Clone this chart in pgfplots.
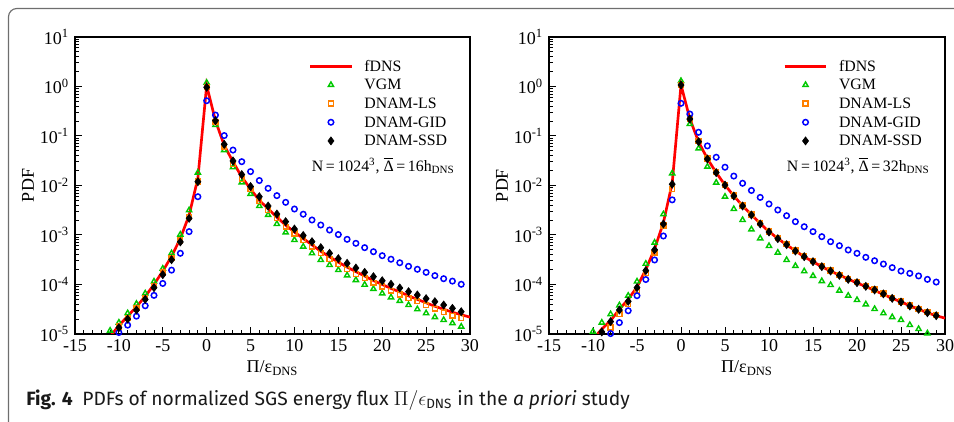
\documentclass[border=0pt]{standalone}
\usepackage{fontspec}
\setmainfont{Liberation Serif}
\newfontfamily\capfont{Fira Sans}
\usepackage{pgfplots}
\pgfplotsset{compat=1.18}

\definecolor{fdns}{RGB}{255,0,0}
\definecolor{vgm}{RGB}{0,200,0}
\definecolor{dls}{RGB}{255,128,0}
\definecolor{gid}{RGB}{0,0,255}
\definecolor{framegray}{RGB}{110,110,110}

\newcommand\dbar{\leavevmode\rlap{\raisebox{0.78em}{\rule{0.6em}{0.07em}}}Δ}

\pgfplotsset{
  legend image code/.code={\draw[mark repeat=2,mark phase=2,#1] plot coordinates {(0pt,0pt)(12.5pt,0pt)(25pt,0pt)};},
  fline/.style={fdns, line width=1.6pt, no marks},
  vgmm/.style={vgm, only marks, mark=triangle, mark size=1.8pt, mark options={line width=0.85pt}},
  dlsm/.style={dls, only marks, mark=square, mark size=1.45pt, mark options={line width=0.85pt}},
  gidm/.style={gid, only marks, mark=o, mark size=1.65pt, mark options={line width=0.9pt}},
  ssdm/.style={black, only marks, mark=diamond*, mark size=2.4pt},
}

\begin{document}
\begin{tikzpicture}
\path[use as bounding box] (0,0) rectangle (572.4pt,253.2pt);
\draw[framegray, line width=0.7pt, rounded corners=5pt] (5.1pt,-6pt) -- (5.1pt,248.1pt) -- (582pt,248.1pt);

% left panel: Delta = 16 h_DNS
\begin{axis}[
    at={(45pt,52.8pt)}, anchor=south west,
    scale only axis, width=237pt, height=178.2pt,
    ymode=log, xmin=-15, xmax=30, ymin=1e-5, ymax=10,
    xtick={-15,-10,...,30}, minor x tick num=4,
    ytick={1e-5,1e-4,1e-3,1e-2,1e-1,1,10},
    yticklabels={10\textsuperscript{-5},10\textsuperscript{-4},10\textsuperscript{-3},10\textsuperscript{-2},10\textsuperscript{-1},10\textsuperscript{0},10\textsuperscript{1}},
    tick pos=left, tick align=inside,
    axis line style={line width=1pt},
    major tick length=4pt, minor tick length=2.2pt,
    tick style={black, line width=0.6pt},
    tick label style={font=\fontsize{10.8}{12}\selectfont},
    xticklabel style={/pgf/number format/assume math mode=true},
    xlabel={Π/ε\textsubscript{DNS}}, ylabel={PDF},
    label style={font=\fontsize{10.8}{12}\selectfont},
    xlabel style={at={(axis description cs:0.5,-0.1145)}, anchor=center},
    ylabel style={at={(axis description cs:-0.119,0.5)}, anchor=center},
    legend style={draw=none, fill=none, inner sep=0pt, at={(0.591,0.934)}, anchor=north west,
      font=\fontsize{9.5}{11}\selectfont, row sep=0pt, column sep=5.8pt,
      nodes={inner sep=1pt, text height=7.5pt, text depth=1.7pt}},
    legend cell align=left,
]
\addplot[fline] coordinates {
(-11,8.9e-6) (-10,1.48e-5) (-9,2.29e-5) (-8,3.55e-5) (-7,5.75e-5) (-6,1.0e-4) (-5,1.86e-4)
(-4,3.72e-4) (-3,8.5e-4) (-2,2.51e-3) (-1,1.41e-2) (0,1.05) (1,0.204) (2,6.46e-2) (3,3.02e-2)
(4,1.48e-2) (5,8.5e-3) (6,5.0e-3) (7,3.39e-3) (8,2.29e-3) (9,1.58e-3) (10,1.15e-3) (11,8.5e-4)
(12,6.31e-4) (13,4.68e-4) (14,3.63e-4) (15,2.82e-4) (16,2.24e-4) (17,1.82e-4) (18,1.48e-4)
(19,1.20e-4) (20,1.0e-4) (21,8.32e-5) (22,7.08e-5) (23,5.89e-5) (24,5.01e-5) (25,4.27e-5)
(26,3.63e-5) (27,3.16e-5) (28,2.75e-5) (29,2.45e-5) (30,2.19e-5)};
\addlegendentry{fDNS}
\addplot[vgmm] coordinates {
(-11,1.17e-5) (-10,1.70e-5) (-9,2.63e-5) (-8,4.07e-5) (-7,6.61e-5) (-6,1.15e-4) (-5,2.09e-4)
(-4,4.27e-4) (-3,1.02e-3) (-2,3.16e-3) (-1,1.82e-2) (0,1.19) (1,0.167) (2,5.2e-2) (3,2.34e-2)
(4,1.16e-2) (5,6.76e-3) (6,3.85e-3) (7,2.54e-3) (8,1.67e-3) (9,1.13e-3) (10,7.94e-4) (11,5.81e-4)
(12,4.27e-4) (13,3.13e-4) (14,2.48e-4) (15,1.96e-4) (16,1.53e-4) (17,1.23e-4) (18,9.9e-5)
(19,8.13e-5) (20,6.61e-5) (21,5.50e-5) (22,4.68e-5) (23,3.85e-5) (24,3.16e-5) (25,2.63e-5)
(26,2.19e-5) (27,1.92e-5) (28,1.66e-5) (29,1.41e-5)};
\addlegendentry{VGM}
\addplot[dlsm] coordinates {
(-10,1.41e-5) (-9,2.14e-5) (-8,3.31e-5) (-7,5.37e-5) (-6,9.33e-5) (-5,1.74e-4) (-4,3.47e-4)
(-3,7.76e-4) (-2,2.34e-3) (-1,1.20e-2) (0,0.98) (1,0.19) (2,6.1e-2) (3,2.69e-2) (4,1.35e-2)
(5,8.5e-3) (6,4.79e-3) (7,3.2e-3) (8,2.17e-3) (9,1.47e-3) (10,1.07e-3) (11,7.94e-4) (12,5.81e-4)
(13,4.27e-4) (14,3.27e-4) (15,2.57e-4) (16,2.03e-4) (17,1.63e-4) (18,1.33e-4) (19,1.09e-4)
(20,9.12e-5) (21,7.5e-5) (22,6.31e-5) (23,5.33e-5) (24,4.57e-5) (25,3.80e-5) (26,3.24e-5)
(27,2.75e-5) (28,2.34e-5) (29,2.09e-5)};
\addlegendentry{DNAM-LS}
\addplot[gidm] coordinates {
(-10,1.07e-5) (-9,1.51e-5) (-8,2.29e-5) (-7,3.72e-5) (-6,6.03e-5) (-5,1.05e-4) (-4,1.95e-4)
(-3,4.27e-4) (-2,1.17e-3) (-1,5.94e-3) (0,0.516) (1,0.265) (2,0.102) (3,5.2e-2) (4,3.03e-2)
(5,1.91e-2) (6,1.26e-2) (7,8.77e-3) (8,6.24e-3) (9,4.57e-3) (10,3.35e-3) (11,2.63e-3) (12,2.01e-3)
(13,1.59e-3) (14,1.26e-3) (15,1.02e-3) (16,8.18e-4) (17,6.79e-4) (18,5.55e-4) (19,4.60e-4)
(20,3.82e-4) (21,3.24e-4) (22,2.75e-4) (23,2.33e-4) (24,2.03e-4) (25,1.76e-4) (26,1.51e-4)
(27,1.31e-4) (28,1.17e-4) (29,1.01e-4)};
\addlegendentry{DNAM-GID}
\addplot[ssdm] coordinates {
(-10,1.34e-5) (-9,2.0e-5) (-8,3.05e-5) (-7,5.01e-5) (-6,8.63e-5) (-5,1.58e-4) (-4,3.16e-4)
(-3,7.24e-4) (-2,2.17e-3) (-1,1.19e-2) (0,0.964) (1,0.204) (2,6.79e-2) (3,3.13e-2) (4,1.66e-2)
(5,9.55e-3) (6,5.94e-3) (7,3.85e-3) (8,2.65e-3) (9,1.86e-3) (10,1.32e-3) (11,9.77e-4) (12,7.33e-4)
(13,5.55e-4) (14,4.27e-4) (15,3.33e-4) (16,2.68e-4) (17,2.15e-4) (18,1.76e-4) (19,1.44e-4)
(20,1.19e-4) (21,1.01e-4) (22,8.51e-5) (23,7.16e-5) (24,6.14e-5) (25,5.18e-5) (26,4.50e-5)
(27,3.85e-5) (28,3.30e-5) (29,2.82e-5)};
\addlegendentry{DNAM-SSD}
\node[anchor=west, font=\fontsize{9.5}{11}\selectfont, inner sep=0pt] at (rel axis cs:0.599,0.566)
  {N\,=\,1024\textsuperscript{3}, \dbar\,=\,16h\textsubscript{DNS}};
\end{axis}

% right panel: Delta = 32 h_DNS
\begin{axis}[
    at={(329.4pt,52.8pt)}, anchor=south west,
    scale only axis, width=237.6pt, height=178.2pt,
    ymode=log, xmin=-15, xmax=30, ymin=1e-5, ymax=10,
    xtick={-15,-10,...,30}, minor x tick num=4,
    ytick={1e-5,1e-4,1e-3,1e-2,1e-1,1,10},
    yticklabels={10\textsuperscript{-5},10\textsuperscript{-4},10\textsuperscript{-3},10\textsuperscript{-2},10\textsuperscript{-1},10\textsuperscript{0},10\textsuperscript{1}},
    tick pos=left, tick align=inside,
    axis line style={line width=1pt},
    major tick length=4pt, minor tick length=2.2pt,
    tick style={black, line width=0.6pt},
    tick label style={font=\fontsize{10.8}{12}\selectfont},
    xticklabel style={/pgf/number format/assume math mode=true},
    xlabel={Π/ε\textsubscript{DNS}}, ylabel={PDF},
    label style={font=\fontsize{10.8}{12}\selectfont},
    xlabel style={at={(axis description cs:0.5,-0.1145)}, anchor=center},
    ylabel style={at={(axis description cs:-0.119,0.5)}, anchor=center},
    legend style={draw=none, fill=none, inner sep=0pt, at={(0.591,0.934)}, anchor=north west,
      font=\fontsize{9.5}{11}\selectfont, row sep=0pt, column sep=5.8pt,
      nodes={inner sep=1pt, text height=7.5pt, text depth=1.7pt}},
    legend cell align=left,
]
\addplot[fline] coordinates {
(-9.6,9.5e-6) (-9,1.26e-5) (-8,1.86e-5) (-7,3.16e-5) (-6,5.01e-5) (-5,8.91e-5) (-4,2.0e-4)
(-3,5.25e-4) (-2,1.78e-3) (-1,1.12e-2) (0,1.08) (1,0.224) (2,7.59e-2) (3,3.47e-2) (4,1.82e-2)
(5,1.02e-2) (6,6.17e-3) (7,3.89e-3) (8,2.57e-3) (9,1.70e-3) (10,1.17e-3) (11,8.51e-4) (12,6.31e-4)
(13,4.79e-4) (14,3.63e-4) (15,2.88e-4) (16,2.29e-4) (17,1.86e-4) (18,1.55e-4) (19,1.29e-4)
(20,1.07e-4) (21,9.12e-5) (22,7.59e-5) (23,6.31e-5) (24,5.25e-5) (25,4.47e-5) (26,3.72e-5)
(27,3.16e-5) (28,2.69e-5) (29,2.34e-5) (30,2.09e-5)};
\addlegendentry{fDNS}
\addplot[vgmm] coordinates {
(-10,1.12e-5) (-9,1.70e-5) (-8,2.51e-5) (-7,3.80e-5) (-6,5.94e-5) (-5,1.15e-4) (-4,2.63e-4)
(-3,7.0e-4) (-2,2.62e-3) (-1,1.76e-2) (0,1.29) (1,0.175) (2,5.62e-2) (3,2.40e-2) (4,1.14e-2)
(5,5.94e-3) (6,3.35e-3) (7,2.01e-3) (8,1.30e-3) (9,8.57e-4) (10,6.0e-4) (11,4.40e-4) (12,3.13e-4)
(13,2.37e-4) (14,1.85e-4) (15,1.49e-4) (16,1.17e-4) (17,9.77e-5) (18,7.50e-5) (19,5.94e-5)
(20,4.86e-5) (21,3.98e-5) (22,3.2e-5) (23,2.63e-5) (24,2.19e-5) (25,1.92e-5) (26,1.52e-5)
(27,1.26e-5) (28,1.03e-5)};
\addlegendentry{VGM}
\addplot[dlsm] coordinates {
(-8,1.35e-5) (-7,2.51e-5) (-6,4.07e-5) (-5,7.76e-5) (-4,1.70e-4) (-3,4.40e-4) (-2,1.55e-3)
(-1,8.51e-3) (0,1.07) (1,0.224) (2,7.8e-2) (3,3.5e-2) (4,1.85e-2) (5,1.04e-2) (6,6.3e-3)
(7,3.95e-3) (8,2.6e-3) (9,1.72e-3) (10,1.18e-3) (11,8.65e-4) (12,6.5e-4) (13,4.85e-4) (14,3.72e-4)
(15,2.95e-4) (16,2.34e-4) (17,1.91e-4) (18,1.57e-4) (19,1.30e-4) (20,1.11e-4) (21,9.35e-5)
(22,7.9e-5) (23,6.6e-5) (24,5.35e-5) (25,4.52e-5) (26,3.76e-5) (27,3.22e-5) (28,2.74e-5) (29,2.38e-5)};
\addlegendentry{DNAM-LS}
\addplot[gidm] coordinates {
(-8,1.02e-5) (-7,1.70e-5) (-6,2.95e-5) (-5,5.94e-5) (-4,1.26e-4) (-3,3.13e-4) (-2,9.55e-4)
(-1,5.13e-3) (0,0.457) (1,0.278) (2,0.119) (3,6.31e-2) (4,3.72e-2) (5,2.34e-2) (6,1.55e-2)
(7,1.11e-2) (8,7.94e-3) (9,5.75e-3) (10,4.23e-3) (11,3.2e-3) (12,2.45e-3) (13,1.86e-3) (14,1.47e-3)
(15,1.17e-3) (16,9.25e-4) (17,7.33e-4) (18,6.08e-4) (19,4.98e-4) (20,4.27e-4) (21,3.54e-4)
(22,3.02e-4) (23,2.59e-4) (24,2.19e-4) (25,1.87e-4) (26,1.68e-4) (27,1.49e-4) (28,1.27e-4) (29,1.12e-4)};
\addlegendentry{DNAM-GID}
\addplot[ssdm] coordinates {
(-9,1.10e-5) (-8,1.78e-5) (-7,3.05e-5) (-6,4.57e-5) (-5,8.63e-5) (-4,1.91e-4) (-3,5.01e-4)
(-2,1.67e-3) (-1,1.06e-2) (0,1.07) (1,0.220) (2,7.67e-2) (3,3.43e-2) (4,1.82e-2) (5,1.02e-2)
(6,6.14e-3) (7,3.85e-3) (8,2.54e-3) (9,1.67e-3) (10,1.15e-3) (11,8.43e-4) (12,6.38e-4) (13,4.75e-4)
(14,3.65e-4) (15,2.89e-4) (16,2.29e-4) (17,1.87e-4) (18,1.53e-4) (19,1.27e-4) (20,1.09e-4)
(21,9.18e-5) (22,7.76e-5) (23,6.46e-5) (24,5.25e-5) (25,4.43e-5) (26,3.68e-5) (27,3.16e-5)
(28,2.69e-5) (29,2.34e-5)};
\addlegendentry{DNAM-SSD}
\node[anchor=west, font=\fontsize{9.5}{11}\selectfont, inner sep=0pt] at (rel axis cs:0.6,0.566)
  {N\,=\,1024\textsuperscript{3}, \dbar\,=\,32h\textsubscript{DNS}};
\end{axis}

\node[anchor=base west, inner sep=0pt, text=black!90, font=\capfont\fontsize{11.55}{13}\selectfont] at (15.6pt,9.6pt)
  {\textbf{Fig. 4}\hspace{0.5em}PDFs of normalized SGS energy flux $\Pi/\epsilon$\textsubscript{DNS} in the \textit{a priori} study};
\end{tikzpicture}
\end{document}
